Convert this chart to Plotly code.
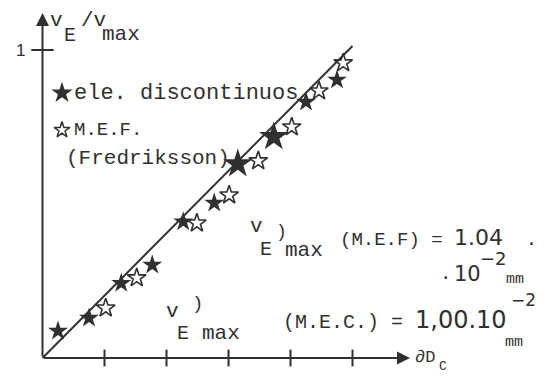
import plotly.graph_objects as go

# --- data -------------------------------------------------------------
# discrete-element results (filled stars)
disc_x = [0.25, 0.75, 1.27, 1.77, 2.27, 2.77, 3.15, 3.73, 4.25, 4.75]
disc_y = [0.088, 0.130, 0.243, 0.302, 0.442, 0.503, 0.630, 0.718, 0.831, 0.903]
# M.E.F. (Fredriksson) results (open stars)
mef_x = [1.02, 1.52, 2.49, 3.01, 3.48, 4.02, 4.46, 4.85]
mef_y = [0.162, 0.260, 0.438, 0.529, 0.640, 0.750, 0.867, 0.958]
# reference straight line
fit_x = [0.0, 5.0]
fit_y = [0.0, 1.013]
# axis ticks
x_ticks = [1, 2, 3, 4, 5]
y_ticks = [1]
y_tick_labels = ["1"]

# --- geometry of the page ---------------------------------------------
W, H = 544, 376
X0, Y0 = 42.5, 358.0      # pixel position of the origin
UX, UY = 62.0, 308.0      # pixels per unit on each axis
x_range = [-X0 / UX, (W - X0) / UX]
y_range = [-(H - Y0) / UY, Y0 / UY]

INK = "#303030"
MONO = "Liberation Mono"
SANS = "Liberation Sans"
DIG = "DejaVu Sans"


def to_data(px, py):
    return (px - X0) / UX, (Y0 - py) / UY


fig = go.Figure()

# reference line
fig.add_trace(go.Scatter(x=fit_x, y=fit_y, mode="lines",
                         line=dict(color=INK, width=2), hoverinfo="skip"))

# discrete elements
disc_sizes = [22 if 3.0 < v < 3.9 else 15 for v in disc_x]
fig.add_trace(go.Scatter(x=disc_x, y=disc_y, mode="markers",
                         marker=dict(symbol="star", size=disc_sizes, color=INK,
                                     opacity=1, line=dict(width=0)),
                         cliponaxis=False))
# M.E.F.
fig.add_trace(go.Scatter(x=mef_x, y=mef_y, mode="markers",
                         marker=dict(symbol="star-open", size=14, color=INK,
                                     opacity=1, line=dict(width=1.6, color=INK)),
                         cliponaxis=False))

# axis tick marks crossing the axes
fig.add_trace(go.Scatter(x=x_ticks, y=[0] * len(x_ticks), mode="markers",
                         marker=dict(symbol="line-ns", size=12, opacity=1,
                                     line=dict(width=2, color=INK)),
                         cliponaxis=False))
fig.add_trace(go.Scatter(x=[0] * len(y_ticks), y=y_ticks, mode="markers",
                         marker=dict(symbol="line-ew", size=16, opacity=1,
                                     line=dict(width=2, color=INK)),
                         cliponaxis=False))

# legend symbols
lx1, ly1 = to_data(62, 93)
lx2, ly2 = to_data(62, 130)
fig.add_trace(go.Scatter(x=[lx1], y=[ly1], mode="markers",
                         marker=dict(symbol="star", size=16, color=INK, opacity=1),
                         cliponaxis=False))
fig.add_trace(go.Scatter(x=[lx2], y=[ly2], mode="markers",
                         marker=dict(symbol="star-open", size=12, color=INK,
                                     opacity=1, line=dict(width=1.5, color=INK)),
                         cliponaxis=False))

annotations = []

# axes with arrow heads
ax_tip_x, _ = to_data(410, Y0)
_, ay_tip_y = to_data(X0, 13)
for tx, ty in [(ax_tip_x, 0.0), (0.0, ay_tip_y)]:
    annotations.append(dict(x=tx, y=ty, ax=0, ay=0, xref="x", yref="y",
                            axref="x", ayref="y", text="", showarrow=True,
                            arrowhead=2, arrowsize=1.3, arrowwidth=2,
                            arrowcolor=INK))


def label(text, px, py, size, family=MONO):
    annotations.append(dict(text=text, xref="paper", yref="paper",
                            x=px / W, y=1 - py / H, xanchor="left",
                            yanchor="middle", showarrow=False,
                            font=dict(family=family, size=size, color=INK)))


def dig(s, size):
    return f'<span style="font-family:{DIG};font-size:{size}px">{s}</span>'


# y tick label
for v, t in zip(y_ticks, y_tick_labels):
    label(t, 14, Y0 - v * UY, 17, SANS)

# y axis title
label("v", 48, 21, 21)
label("E", 62, 35, 20)
label("/v", 79, 21, 21)
label("max", 100, 34, 21)

# legend texts
label("ele. discontinuos", 72, 93, 22)
label("M.E.F.", 72, 130, 19)
label("(Fredriksson)", 64, 158, 21)

# upper formula
label("v", 248, 226, 21)
label("E", 258, 249, 20)
label(")", 274, 232, 18)
label("max", 283, 251, 21)
label("(M.E.F) = " + dig("1.04", 22) + "  .", 338, 238, 19)
label(".", 438, 274, 19)
label("10", 452, 274, 21, DIG)
label("\u22122", 478, 258, 18, DIG)
label("mm", 504, 279, 15)

# lower formula
label("v", 164, 311, 21)
label("E", 175, 333, 20)
label(")", 190, 304, 19)
label("max", 200, 333, 21)
label("(M.E.C.) = " + dig("1,00.10", 24), 281, 320, 20)
label("\u22122", 509, 300, 17, DIG)
label("mm", 503, 342, 15)

# x axis title
label("\u2202D", 413, 357, 17)
label("C", 437, 366, 13)

fig.update_layout(
    width=W, height=H,
    margin=dict(l=0, r=0, t=0, b=0),
    paper_bgcolor="white", plot_bgcolor="white",
    showlegend=False,
    xaxis=dict(range=x_range, visible=False, fixedrange=True),
    yaxis=dict(range=y_range, visible=False, fixedrange=True),
    annotations=annotations,
)

fig.write_html("out.html")
